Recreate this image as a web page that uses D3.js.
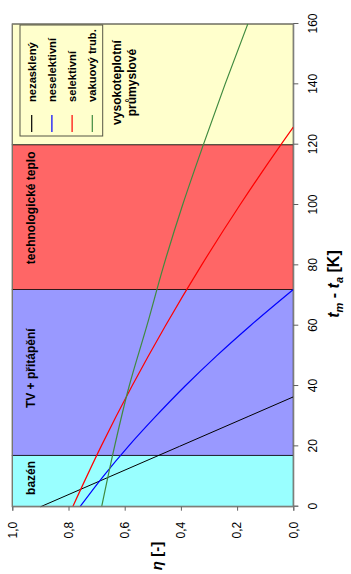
<!DOCTYPE html>
<html>
<head>
<meta charset="utf-8">
<script src="https://cdn.jsdelivr.net/npm/d3@7"></script>
<style>
  body { margin: 0; background: #fff; }
  svg { display: block; font-family: Arial, "Liberation Sans", sans-serif; }
</style>
</head>
<body>
<svg id="chart" width="351" height="574"></svg>
<script>
// data (t_m - t_a [K], eta [-])
const dtTicks = [0, 20, 40, 60, 80, 100, 120, 140, 160];
const etaTicks = [0, 0.2, 0.4, 0.6, 0.8, 1.0];
const etaLabels = ["0,0", "0,2", "0,4", "0,6", "0,8", "1,0"];

const bandNames = ["bazén", "TV + přitápění", "technologické teplo", "vysokoteplotní\nprůmyslové"];
const bandFrom = [0, 17, 72, 120];
const bandTo = [17, 72, 120, 160];

const seriesNames = ["nezasklený", "neselektivní", "selektivní", "vakuový trub."];
const nezaskleny = [[0, 0.899], [10, 0.652], [20, 0.405], [30, 0.158], [36.4, 0]];
const neselektivni = [[0, 0.759], [10, 0.677], [20, 0.587], [30, 0.489], [40, 0.385], [50, 0.273], [60, 0.153], [72, 0]];
const selektivni = [[0, 0.785], [20, 0.684], [40, 0.574], [60, 0.455], [80, 0.327], [100, 0.190], [120, 0.044], [125.8, 0]];
const vakuovy = [[0, 0.682], [20, 0.636], [40, 0.584], [60, 0.521], [80, 0.461], [100, 0.394], [120, 0.320], [140, 0.243], [160, 0.162]];

const bandColors = ["#99ffff", "#9999ff", "#ff6666", "#ffffcc"];
const lineColors = ["#000000", "#0000ff", "#ff0000", "#3f8a3f"];

const W = 351, H = 574;
const svg = d3.select("#chart");
svg.append("rect").attr("width", W).attr("height", H).attr("fill", "#fff");

// chart is drawn upright and turned 90deg counter-clockwise
const g = svg.append("g").attr("transform", `translate(0,${H}) rotate(-90)`);
const plot = { left: 67.3, right: 550, top: 12.3, bottom: 293.3 };

const x = d3.scaleLinear().domain([0, 160]).range([plot.left, plot.right]);
const y = d3.scaleLinear().domain([0, 1]).range([plot.bottom, plot.top]);

const bands = bandNames.map((n, i) => ({ name: n, from: bandFrom[i], to: bandTo[i], color: bandColors[i] }));

g.selectAll("rect.band")
  .data(bands)
  .join("rect")
  .attr("class", "band")
  .attr("x", d => x(d.from))
  .attr("width", d => x(d.to) - x(d.from))
  .attr("y", plot.top)
  .attr("height", plot.bottom - plot.top)
  .attr("fill", d => d.color)
  .attr("stroke", "#000")
  .attr("stroke-opacity", 0.7)
  .attr("stroke-width", 1);

// plot border
g.append("rect")
  .attr("x", plot.left).attr("y", plot.top)
  .attr("width", plot.right - plot.left).attr("height", plot.bottom - plot.top)
  .attr("fill", "none").attr("stroke", "#808070").attr("stroke-width", 1);

// band labels
const labelAt = [3.9, 32.7, 80.4, 140.6];
g.selectAll("text.band")
  .data(bands)
  .join("text")
  .attr("class", "band")
  .attr("font-size", 12)
  .attr("font-weight", "bold")
  .attr("fill", "#000")
  .each(function (d, i) {
    const t = d3.select(this);
    const lines = d.name.split("\n");
    if (lines.length > 1) {
      t.attr("text-anchor", "middle");
      lines.forEach((l, j) => {
        t.append("tspan").attr("x", x(labelAt[i])).attr("y", 121 + j * 15).text(l);
      });
    } else {
      t.attr("x", x(labelAt[i])).attr("y", 35).text(d.name);
    }
  });

// curves
const line = d3.line()
  .x(d => x(d[0]))
  .y(d => y(d[1]))
  .curve(d3.curveMonotoneX);

const series = [nezaskleny, neselektivni, selektivni, vakuovy];
g.selectAll("path.series")
  .data(series)
  .join("path")
  .attr("class", "series")
  .attr("d", line)
  .attr("fill", "none")
  .attr("stroke", (d, i) => lineColors[i])
  .attr("stroke-width", (d, i) => i === 0 ? 1 : 1.2);

// axes
const xAxis = d3.axisBottom(x).tickValues(dtTicks).tickSize(5).tickPadding(10);
const gx = g.append("g").attr("transform", `translate(0,${plot.bottom})`).call(xAxis);

const yAxis = d3.axisLeft(y).tickValues(etaTicks)
  .tickFormat((d, i) => etaLabels[i]).tickSize(4).tickPadding(11);
const gy = g.append("g").attr("transform", `translate(${plot.left},0)`).call(yAxis);

[gx, gy].forEach(a => {
  a.select(".domain").attr("stroke", "#808080");
  a.selectAll(".tick line").attr("stroke", "#606060");
  a.selectAll(".tick text").attr("font-size", 12).attr("fill", "#000")
    .attr("font-family", "Arial, 'Liberation Sans', sans-serif");
});

// axis titles
const yTitle = g.append("text")
  .attr("x", 18).attr("y", 162)
  .attr("text-anchor", "middle")
  .attr("font-size", 15).attr("font-weight", "bold");
yTitle.append("tspan").attr("font-style", "italic").text("η");
yTitle.append("tspan").text(" [-]");

const xTitle = g.append("text")
  .attr("x", 290).attr("y", 339)
  .attr("text-anchor", "middle")
  .attr("font-size", 16).attr("font-weight", "bold");
xTitle.append("tspan").attr("font-style", "italic").text("t");
xTitle.append("tspan").attr("font-style", "italic").attr("font-size", 11).attr("dy", 4).text("m");
xTitle.append("tspan").attr("dy", -4).text(" - ");
xTitle.append("tspan").attr("font-style", "italic").text("t");
xTitle.append("tspan").attr("font-style", "italic").attr("font-size", 11).attr("dy", 4).text("a");
xTitle.append("tspan").attr("dy", -4).text(" [K]");

// legend
const legend = g.append("g");
legend.append("rect")
  .attr("x", 438).attr("y", 20)
  .attr("width", 111).attr("height", 82.7)
  .attr("fill", "none").attr("stroke", "#555544").attr("stroke-width", 1);

const rowY = d3.scalePoint().domain(seriesNames).range([31.7, 92.3]);
const items = legend.selectAll("g.item")
  .data(seriesNames)
  .join("g")
  .attr("class", "item")
  .attr("transform", d => `translate(0,${rowY(d)})`);
items.append("line")
  .attr("x1", 442).attr("x2", 459)
  .attr("stroke", (d, i) => lineColors[i])
  .attr("stroke-width", 1.2);
items.append("text")
  .attr("x", 472).attr("y", 4)
  .attr("font-size", 11.2).attr("font-weight", "bold")
  .text(d => d);
</script>
</body>
</html>
